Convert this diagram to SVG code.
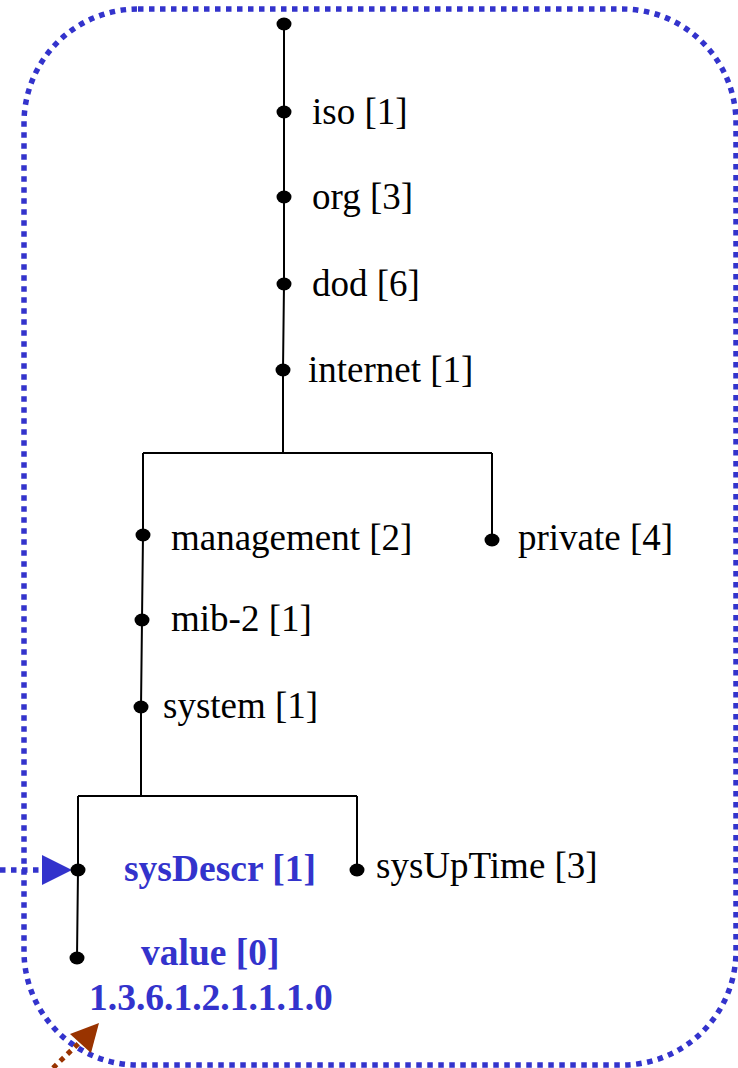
<svg xmlns="http://www.w3.org/2000/svg" width="738" height="1068" viewBox="0 0 738 1068">
<style>
.t{font-family:"Liberation Serif","Times New Roman",serif;font-size:37px;fill:#000}
.b{font-family:"Liberation Serif","Times New Roman",serif;font-size:37.5px;font-weight:bold;fill:#3333CC}
.ln{stroke:#000;stroke-width:2;fill:none}
.dot{fill:#000}
.dotted{stroke:#3333CC;stroke-width:5.5;stroke-dasharray:5.5 5.5;fill:none}
</style>
<rect id="boundary" x="24" y="9" width="712" height="1056" rx="114" ry="114" class="dotted"/>
<g id="connectors">
<path class="ln" d="M284,24 L284,284 L283,370 L283,453"/>
<path class="ln" d="M143,453 L492,453"/>
<path class="ln" d="M143,453 L143,535 L142,620 L141,707 L141,796"/>
<path class="ln" d="M492,453 L492,540"/>
<path class="ln" d="M78,796 L357,796"/>
<path class="ln" d="M78,796 L78,870 L77,958"/>
<path class="ln" d="M357,796 L357,870"/>
<line x1="0" y1="870" x2="44" y2="870" stroke="#3333CC" stroke-width="5.5" stroke-dasharray="5.5 5.5"/>
<polygon points="42,855 42,885 72,870" fill="#3333CC"/>
<line x1="53" y1="1068" x2="80" y2="1042" stroke="#993300" stroke-width="5" stroke-dasharray="5 5"/>
<polygon points="70,1034 99,1023 91,1053" fill="#993300"/>
</g>
<g id="root"><ellipse class="dot" cx="284" cy="24" rx="7.5" ry="6.5"/></g>
<g id="iso"><ellipse class="dot" cx="284" cy="112" rx="7.5" ry="6.5"/><text class="t" x="312" y="124">iso [1]</text></g>
<g id="org"><ellipse class="dot" cx="284" cy="197" rx="7.5" ry="6.5"/><text class="t" x="312" y="209">org [3]</text></g>
<g id="dod"><ellipse class="dot" cx="284" cy="284" rx="7.5" ry="6.5"/><text class="t" x="312" y="296">dod [6]</text></g>
<g id="internet"><ellipse class="dot" cx="283" cy="370" rx="7.5" ry="6.5"/><text class="t" x="308" y="382">internet [1]</text></g>
<g id="management"><ellipse class="dot" cx="143" cy="535" rx="7.5" ry="6.5"/><text class="t" x="171" y="550">management [2]</text></g>
<g id="private"><ellipse class="dot" cx="492" cy="540" rx="7.5" ry="6.5"/><text class="t" x="518" y="550">private [4]</text></g>
<g id="mib-2"><ellipse class="dot" cx="142" cy="620" rx="7.5" ry="6.5"/><text class="t" x="171" y="631">mib-2 [1]</text></g>
<g id="system"><ellipse class="dot" cx="141" cy="707" rx="7.5" ry="6.5"/><text class="t" x="163" y="718">system [1]</text></g>
<g id="sysDescr"><ellipse class="dot" cx="78" cy="870" rx="7.5" ry="6.5"/><text class="b" x="124" y="881">sysDescr [1]</text></g>
<g id="sysUpTime"><ellipse class="dot" cx="357" cy="870" rx="7.5" ry="6.5"/><text class="t" x="376" y="878">sysUpTime [3]</text></g>
<g id="value"><ellipse class="dot" cx="77" cy="958" rx="7.5" ry="6.5"/><text class="b" x="141" y="965">value [0]</text><text class="b" x="89" y="1010">1.3.6.1.2.1.1.1.0</text></g>
</svg>
